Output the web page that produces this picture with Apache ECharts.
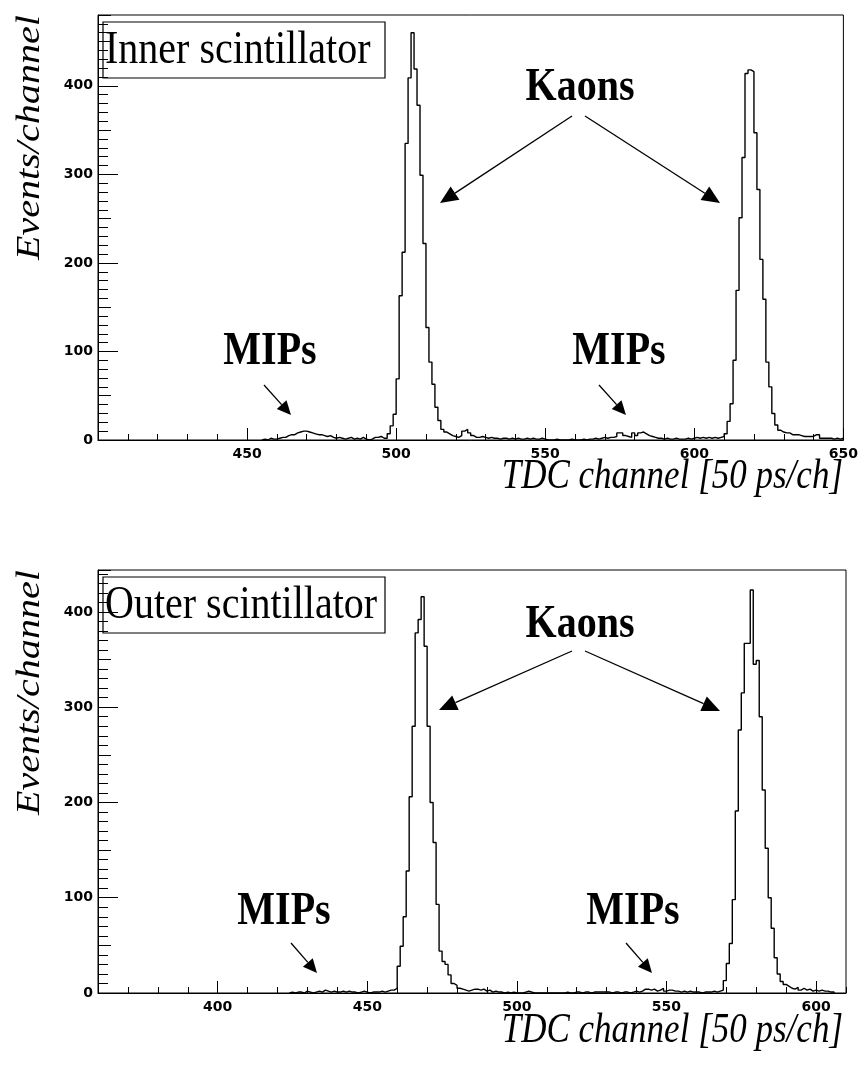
<!DOCTYPE html>
<html><head><meta charset="utf-8">
<script src="https://cdn.jsdelivr.net/npm/echarts@6/dist/echarts.min.js"></script>
<style>html,body{margin:0;padding:0;background:#fff}#c{width:861px;height:1091px}</style>
</head><body><div id="c"></div>
<script>
// ---------- DATA ----------
// Inner scintillator histogram: counts per TDC channel, first channel = innerStart
const innerStart = 455;
const innerCounts = [
  1,0,2,1,1,2,3,
  3,5,6,6,8,9,10,10,9,8,7,6,6,5,4,5,3,2,3,2,1,2,3,1,2,1,3,1,0,1,3,3,4,2,
  2,7,16,29,69,163,212,335,409,460,419,378,299,222,127,88,63,37,22,12,9,
  7,5,4,3,5,10,12,8,5,3,3,4,3,2,3,2,2,1,2,2,1,2,1,2,1,1,2,1,2,1,1,2,1,
  0,0,0,1,0,0,0,0,1,0,0,0,1,0,1,1,
  2,1,2,3,2,3,3,4,8,8,5,4,3,8,5,8,9,7,5,4,3,2,2,1,2,1,1,2,1,1,1,2,1,2,3,2,3,2,3,2,3,2,3,4,
  7,21,41,90,169,251,319,414,418,416,347,283,204,159,88,60,30,17,11,9,
  8,8,6,6,6,5,4,4,4,4,6,6,2,2,2,2,1,2,1,2
];
// Outer scintillator histogram
const outerStart = 424;
const outerCounts = [
  1,0,1,1,0,2,1,0,1,2,1,3,2,1,2,1,1,2,1,2,1,1,0,1,2,1,0,1,1,1,2,1,2,3,
  3,5,28,49,80,128,206,280,378,392,416,364,280,200,158,93,44,33,30,19,
  10,8,5,4,3,2,3,4,4,3,4,2,3,1,2,1,1,0,1,0,1,0,0,
  0,1,2,1,0,0,0,0,0,0,0,0,0,0,0,1,0,0,1,1,0,1,1,0,1,1,1,1,1,1,0,1,1,0,1,1,0,1,2,1,
  2,4,4,3,4,2,3,5,2,3,3,2,2,1,2,1,2,1,1,1,0,1,1,1,2,1,2,
  3,13,31,52,98,191,276,315,367,367,423,345,349,290,213,152,100,68,37,
  20,12,9,7,5,4,6,3,5,3,4,2,3,2,3,2,2,1,1
];
const innerXRange = [400, 650];
const outerXRange = [360, 610];
const innerYMax = 480;
const outerYMax = 444;
const panelLabels = ['Inner scintillator', 'Outer scintillator'];
const xTitle = 'TDC channel [50 ps/ch]';
const yTitle = 'Events/channel';

// ---------- BUILD ----------
function hist(start, counts) {
  const d = [[start, 0]];
  counts.forEach((v, i) => d.push([start + i, v]));
  const end = start + counts.length;
  d.push([end, counts[counts.length - 1]]);
  d.push([end, 0]);
  return d;
}
const labelFont = {fontFamily: 'DejaVu Sans', fontWeight: 'bold', fontSize: 14, color: '#000'};
function xMain(grid, r, opts) {
  return Object.assign({
    type: 'value', gridIndex: grid, min: r[0], max: r[1], position: 'bottom',
    axisLine: {show: true, onZero: false, lineStyle: {color: '#000', width: 1}},
    axisTick: {show: true, inside: true, length: 12, lineStyle: {color: '#000', width: 1}},
    axisLabel: Object.assign({margin: 7, showMinLabel: false}, labelFont),
    splitLine: {show: false}
  }, opts);
}
function xMinor(grid, r) {
  return {type: 'value', gridIndex: grid, min: r[0], max: r[1], interval: 10, position: 'bottom',
    axisLine: {show: false}, axisLabel: {show: false}, splitLine: {show: false},
    axisTick: {show: true, inside: true, length: 6, lineStyle: {color: '#000', width: 1}}};
}
function yAx(grid, max, interval, len, labels) {
  return {type: 'value', gridIndex: grid, min: 0, max: max, interval: interval, position: 'left',
    axisLine: {show: labels, onZero: false, lineStyle: {color: '#000', width: 1}},
    axisTick: {show: true, inside: true, length: len, lineStyle: {color: '#000', width: 1}},
    axisLabel: labels ? Object.assign({margin: 5, showMaxLabel: false}, labelFont) : {show: false},
    splitLine: {show: false}};
}

const chart = echarts.init(document.getElementById('c'), null, {renderer: 'canvas'});

function arrow(x1, y1, x2, y2, head, w) {
  const dx = x2 - x1, dy = y2 - y1, L = Math.hypot(dx, dy);
  const ux = dx / L, uy = dy / L, px = -uy, py = ux;
  const bx = x2 - ux * head, by = y2 - uy * head;
  return [
    {type: 'line', shape: {x1: x1, y1: y1, x2: bx, y2: by}, style: {stroke: '#000', lineWidth: 1.3}},
    {type: 'polygon', shape: {points: [[x2, y2], [bx + px * w / 2, by + py * w / 2], [bx - px * w / 2, by - py * w / 2]]}, style: {fill: '#000'}}
  ];
}
const VS = 1.18; // vertical stretch of the serif lettering
function txt(s, x, y, font, align) {
  return {type: 'text', x: x, y: y, scaleY: VS,
    style: {text: s, font: font, fill: '#000', textAlign: align || 'center', textVerticalAlign: 'middle'}};
}
const boldF = 'bold 40px "Liberation Serif"';
const xTitleF = 'italic 35px "Liberation Serif"';
const yTitleF = 'italic 34px "Liberation Serif"';
const graphics = [];
function panel(box, mipsL, mipsR, kaons, kL, kR, mL, mR, label, yTop, xTitleY) {
  graphics.push({type: 'rect', shape: {x: box[0], y: box[1], width: box[2], height: box[3]}, style: {fill: '#fff', stroke: '#000', lineWidth: 1.2}});
  graphics.push(txt(label, box[0] + 2, box[1] + box[3] / 2 + 1, '40px "Liberation Serif"', 'left'));
  graphics.push(txt('Kaons', kaons[0], kaons[1], boldF));
  graphics.push(txt('MIPs', mipsL[0], mipsL[1], boldF));
  graphics.push(txt('MIPs', mipsR[0], mipsR[1], boldF));
  [kL, kR].forEach(a => arrow(a[0], a[1], a[2], a[3], 18, 16).forEach(g => graphics.push(g)));
  [mL, mR].forEach(a => arrow(a[0], a[1], a[2], a[3], 14, 13).forEach(g => graphics.push(g)));
  graphics.push({type: 'text', x: 30, y: yTop, rotation: Math.PI / 2, scaleX: VS,
    style: {text: yTitle, font: yTitleF, fill: '#000', textAlign: 'right', textVerticalAlign: 'middle'}});
  graphics.push(txt(xTitle, 843, xTitleY, xTitleF, 'right'));
}
panel([103, 22, 282, 56], [270, 352], [619, 352], [580, 88],
  [572, 116, 440, 203], [585, 116, 720, 203], [264, 385, 291, 415], [599, 385, 626, 415],
  panelLabels[0], 15, 477);
panel([103, 577, 282, 56], [284, 912], [633, 912], [580, 625],
  [572, 651, 439, 710], [585, 651, 720, 711], [291, 943, 317, 973], [626, 943, 652, 973],
  panelLabels[1], 570, 1031);

chart.setOption({
  backgroundColor: '#fff',
  animation: false,
  grid: [
    {left: 98, top: 15, width: 748, height: 425, show: true, borderColor: '#000', borderWidth: 1, backgroundColor: 'transparent'},
    {left: 98, top: 570, width: 748, height: 423, show: true, borderColor: '#000', borderWidth: 1, backgroundColor: 'transparent'}
  ],
  xAxis: [
    xMain(0, innerXRange, {interval: 50}),
    xMinor(0, innerXRange),
    xMain(1, outerXRange, {minInterval: 50, maxInterval: 50, splitNumber: 5, axisLabel: Object.assign({margin: 7, showMinLabel: false, showMaxLabel: false}, labelFont)}),
    xMinor(1, outerXRange)
  ],
  yAxis: [
    yAx(0, innerYMax, 100, 20, true), yAx(0, innerYMax, 50, 13, false), yAx(0, innerYMax, 10, 10, false),
    yAx(1, outerYMax, 100, 20, true), yAx(1, outerYMax, 50, 13, false), yAx(1, outerYMax, 10, 10, false)
  ],
  series: [
    {type: 'line', xAxisIndex: 0, yAxisIndex: 0, step: 'end', symbol: 'none', data: hist(innerStart, innerCounts),
      lineStyle: {color: '#000', width: 1.4}, z: 3},
    {type: 'line', xAxisIndex: 2, yAxisIndex: 3, step: 'end', symbol: 'none', data: hist(outerStart, outerCounts),
      lineStyle: {color: '#000', width: 1.4}, z: 3}
  ],
  graphic: {elements: graphics}
});
</script></body></html>
